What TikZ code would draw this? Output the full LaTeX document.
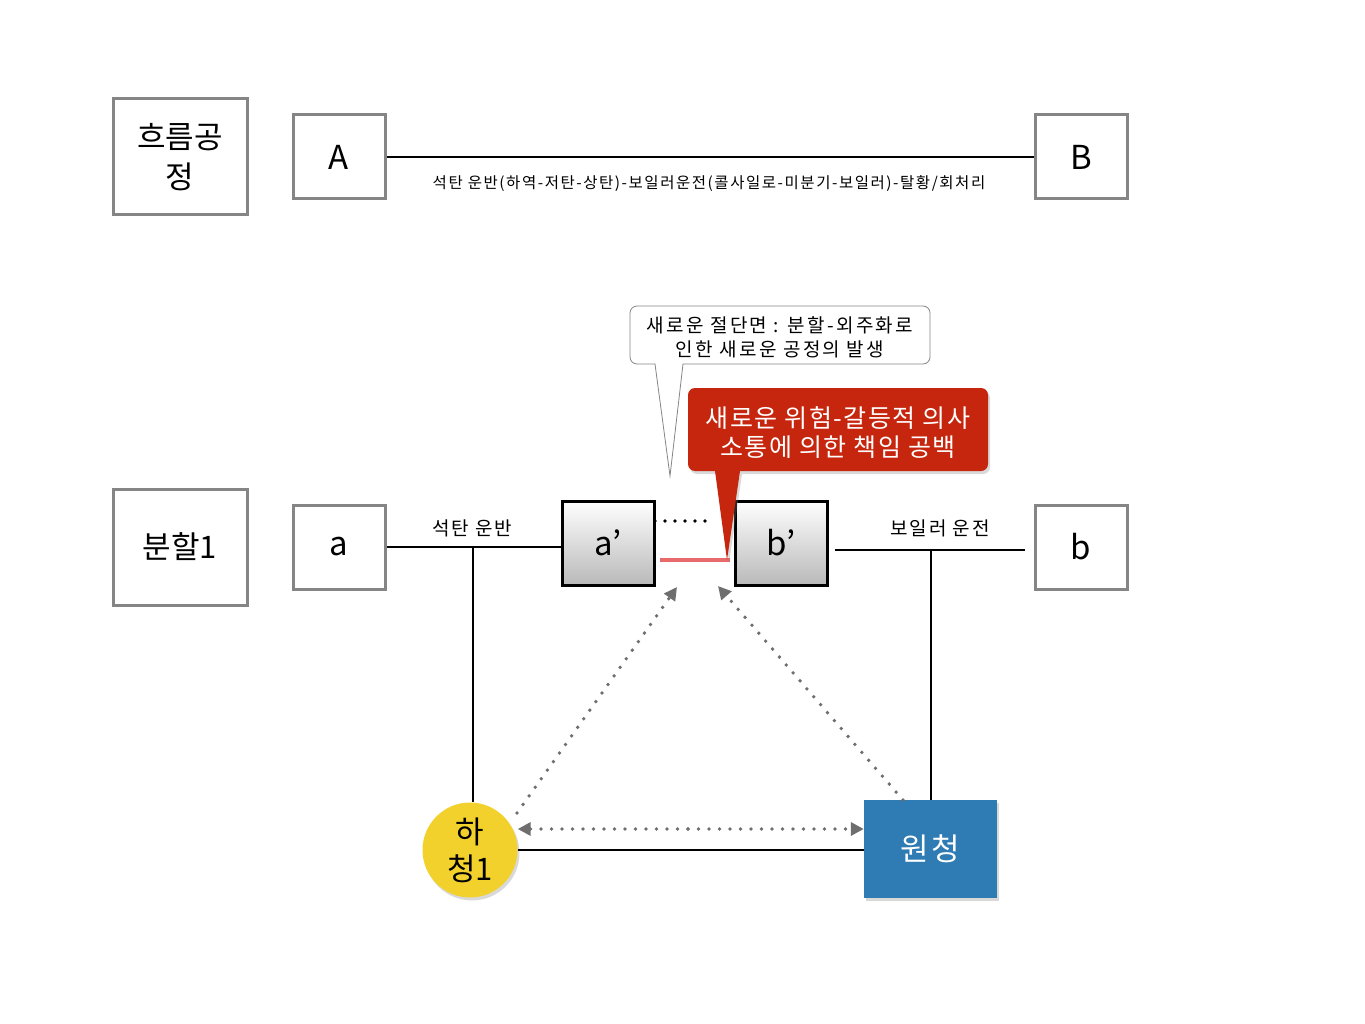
\documentclass[tikz,border=0pt]{standalone}
\usepackage{fontspec}
\setmainfont{Noto Sans CJK KR}
\usetikzlibrary{shadows,arrows.meta}
\definecolor{bordergray}{HTML}{858585}
\definecolor{hayellow}{HTML}{F2D12C}
\definecolor{wonblue}{HTML}{2E7CB3}
\definecolor{callred}{HTML}{C6260E}
\definecolor{hilite}{HTML}{E86A6A}
\definecolor{dotgray}{HTML}{6E6E6E}
\tikzset{
  graybox/.style={draw=bordergray, line width=3pt, fill=white, inner sep=0pt},
  gradbox/.style={draw=black, line width=3pt, top color=white, bottom color=gray!55, inner sep=0pt,
     minimum width=92pt, minimum height=84pt, drop shadow={shadow xshift=2pt, shadow yshift=-2pt, opacity=0.35}},
  conn/.style={line width=2.8pt, black},
  dotarrow/.style={dotgray, line width=3.8pt, line cap=round, dash pattern=on 0pt off 10.5pt,
     arrows={-{Triangle[length=13pt,width=13pt]}}},
}
\begin{document}
\begin{tikzpicture}[x=1pt,y=-1pt]
\useasboundingbox (0,0) rectangle (1365,1024);
% top row
\node[graybox, minimum width=134pt, minimum height=116pt, align=center, font=\fontsize{31}{40}\selectfont] (flow) at (180,157) {흐름공\\정};
\node[graybox, minimum width=92pt, minimum height=84pt, font=\fontsize{33}{40}\selectfont] (A) at (339,157) {A};
\node[graybox, minimum width=92pt, minimum height=84pt, font=\fontsize{33}{40}\selectfont] (B) at (1081,157) {B};
\draw[conn] (A.east) -- (B.west);
\node[font=\fontsize{15.5}{18}\selectfont\addfontfeatures{LetterSpace=10}, anchor=center] (toptext) at (709,184) {석탄 운반(하역-저탄-상탄)-보일러운전(콜사일로-미분기-보일러)-탈황/회처리};
% second row
\node[graybox, minimum width=134pt, minimum height=116pt, font=\fontsize{31}{40}\selectfont] (div) at (180,547) {분할1};
\node[graybox, minimum width=92pt, minimum height=84pt, font=\fontsize{33}{40}\selectfont] (a) at (339,547) {a};
\node[graybox, minimum width=92pt, minimum height=84pt, font=\fontsize{33}{40}\selectfont] (b) at (1081,547) {b};
\node[gradbox, font=\fontsize{33}{40}\selectfont] (ap) at (608,543) {a’};
\node[gradbox, font=\fontsize{33}{40}\selectfont] (bp) at (781,543) {b’};
% circle and blue box
\node[circle, fill=hayellow, minimum size=95pt, inner sep=0pt, align=center,
  font=\fontsize{31}{37}\selectfont,
  drop shadow={shadow xshift=2pt, shadow yshift=-3pt, opacity=0.3}] (hc) at (470,850) {하\\청1};
\node[fill=wonblue, minimum width=133pt, minimum height=98pt, inner sep=0pt, text=white,
  font=\fontsize{31}{37}\selectfont\addfontfeatures{LetterSpace=8},
  drop shadow={shadow xshift=2pt, shadow yshift=-3pt, opacity=0.3}] (won) at (930.5,849) {원청};
% connectors
\coordinate (j1) at (473,547);
\coordinate (bl) at (835,550);
\coordinate (br) at (1025,550);
\coordinate (j2) at (931,550);
\draw[conn] (a.east) -- (a.east -| ap.west);
\draw[conn] (bl) -- (br);
\draw[conn] (j1) -- (j1 |- hc.north);
\draw[conn] (j2) -- (j2 |- won.north);
\draw[conn] (hc.east) -- (won.west |- hc.east);
\node[font=\fontsize{19}{22}\selectfont\addfontfeatures{LetterSpace=10}] (lab1) at (472,528) {석탄 운반};
\node[font=\fontsize{19}{22}\selectfont\addfontfeatures{LetterSpace=10}] (lab2) at (940,528) {보일러 운전};
% dotted between a' and b'
\coordinate (d1) at (655,521);
\coordinate (d2) at (715,521);
\draw[black, line width=3.8pt, line cap=round, dash pattern=on 0pt off 10pt] (d1) -- (d2);
% red highlight
\coordinate (r1) at (660,560);
\coordinate (r2) at (730,560);
\draw[hilite, line width=4pt] (r1) -- (r2);
% dotted arrows
\coordinate (la) at (517,813);
\coordinate (lt) at (677,587);
\coordinate (ra) at (903,800);
\coordinate (rt) at (718,586);
\coordinate (hm) at (688,829);
\draw[dotarrow] (la) -- (lt);
\draw[dotarrow] (ra) -- (rt);
\draw[dotarrow] (hm) -- (hc.east |- hm);
\draw[dotarrow] (hm) -- (won.west |- hm);
% white callout
\draw[bordergray, line width=0.8pt, fill=white]
  (670,476) -- (683,364) [rounded corners=7pt] -- (930,364) -- (930,306) -- (630,306) -- (630,364) [sharp corners] -- (655,364) -- cycle;
\node[align=center, font=\fontsize{19}{24}\selectfont\addfontfeatures{LetterSpace=12}] (wtext) at (780,337) {새로운 절단면 : 분할-외주화로\\인한 새로운 공정의 발생};
% red callout
\fill[callred, drop shadow={shadow xshift=2pt, shadow yshift=-3pt, opacity=0.3}]
  (727,560) -- (740,471) [rounded corners=7pt] -- (988,471) -- (988,388) -- (688,388) -- (688,471) [sharp corners] -- (715,471) -- cycle;
\node[align=center, text=white, font=\fontsize{25}{29}\selectfont\addfontfeatures{LetterSpace=6}] (rtext) at (838,433) {새로운 위험-갈등적 의사\\소통에 의한 책임 공백};
\end{tikzpicture}
\end{document}
